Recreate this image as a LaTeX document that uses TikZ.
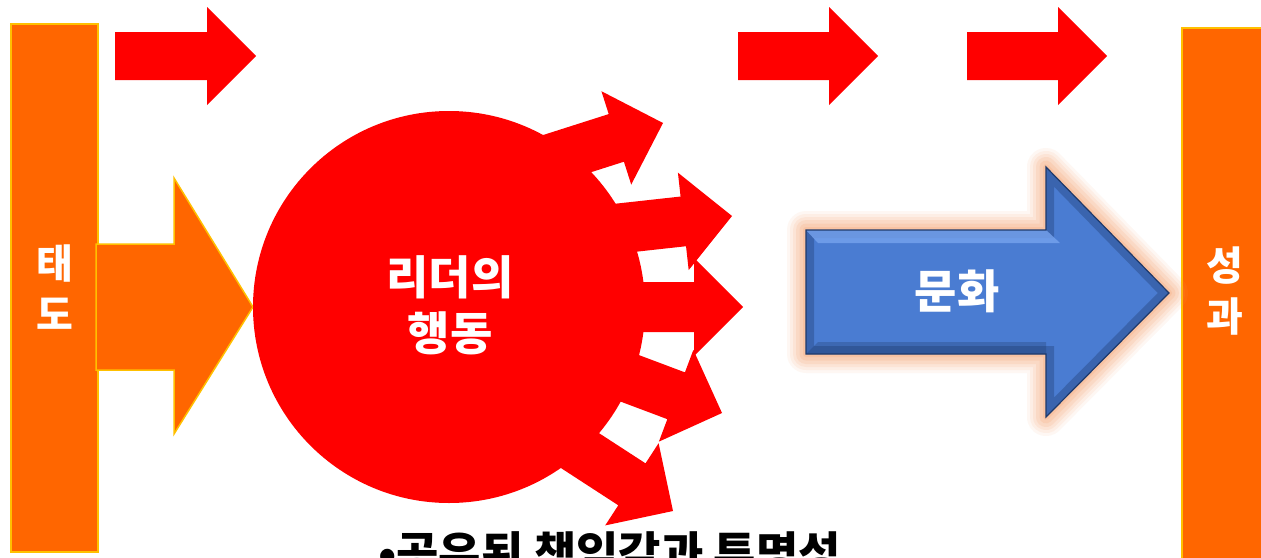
\documentclass[tikz,border=0pt]{standalone}
\usepackage{fontspec}
\setmainfont{Noto Sans CJK KR}
\definecolor{arrowred}{HTML}{FF0000}
\definecolor{barorange}{HTML}{FF6600}
\definecolor{baredge}{HTML}{FFC000}
\definecolor{bluefill}{HTML}{4A7CD2}
\definecolor{bluedark}{HTML}{1F3A6B}
\definecolor{bluelight}{HTML}{76A3EE}
\definecolor{glowc}{HTML}{F5A06A}
\newcommand\burstarrow[4]{%
  \fill[arrowred, shift={(#1,#2)}, rotate=#3] (0,0) -- (-49,-49) -- (-49,-25) -- (-#4,-25) -- (-#4,25) -- (-49,25) -- (-49,49) -- cycle;}
\newcommand\toparrow[3]{%
  \fill[arrowred] (#1,32) -- (#2,32) -- (#2,7) -- (#3,56) -- (#2,105) -- (#2,80) -- (#1,80) -- cycle;}
\def\bluepath{(806,230) -- (1046,230) -- (1046,167) -- (1169,293) -- (1046,417) -- (1046,354) -- (806,354) -- cycle}
\begin{document}
\begin{tikzpicture}[x=1pt,y=-1pt,
  bar/.style={fill=barorange, draw=baredge, line width=1.8pt},
  whitelabel/.style={text=white, font=\bfseries\fontsize{40}{51}\selectfont, align=center, inner sep=0pt},
  biglabel/.style={text=white, font=\bfseries\fontsize{46}{56}\selectfont, align=center, inner sep=0pt}]
\useasboundingbox (0,0) rectangle (1261,557);
\fill[white] (0,0) rectangle (1261,557);
% bars
\draw[bar] (11,24) rectangle (98,552);
\draw[bar] (1182,28) rectangle (1266,562);
% orange arrow
\draw[bar, line width=1.5pt, line join=miter] (96,244) -- (174,244) -- (174,178) -- (253,307) -- (174,434) -- (174,370) -- (96,370) -- cycle;
% top red arrows
\toparrow{115}{207}{256}
\toparrow{738}{829}{878}
\toparrow{967}{1058}{1107}
% circle with burst arrows
\fill[arrowred] (449,307) circle (196);
\burstarrow{663}{123}{17.7}{169}
\burstarrow{732}{216}{6.3}{200}
\burstarrow{743}{307}{0}{220}
\burstarrow{722}{413}{-20.6}{200}
\burstarrow{673}{511}{-33}{190}
% blue arrow with glow
\foreach \w/\o in {38/0.08, 32/0.1, 26/0.12, 20/0.15, 13/0.18, 6/0.22} {
  \draw[glowc, line width=\w pt, opacity=\o, line join=round] \bluepath;
}
\fill[bluefill] \bluepath;
\begin{scope}
  \clip \bluepath;
  \draw[bluedark, line width=16pt, opacity=0.35] \bluepath;
  \fill[bluelight, opacity=0.8] (806,230) -- (1046,230) -- (1060,243) -- (818,243) -- cycle;
  \fill[bluedark, opacity=0.3] (818,342) -- (1046,342) -- (1046,354) -- (806,354) -- cycle;
\end{scope}
\draw[bluedark, line width=1.2pt, line join=miter] \bluepath;
% labels
\node[whitelabel] (attitude) at (55,287) {태\\도};
\node[whitelabel] (result) at (1225,291) {성\\과};
\node[biglabel] (leader) at (450,305) {리더의\\행동};
\node[biglabel] (culture) at (957,291) {문화};
\node[anchor=base west, inner sep=0pt, font=\bfseries\fontsize{46}{54}\selectfont] (bottom) at (378,570) {•공유된 책임감과 투명성};
\end{tikzpicture}
\end{document}
